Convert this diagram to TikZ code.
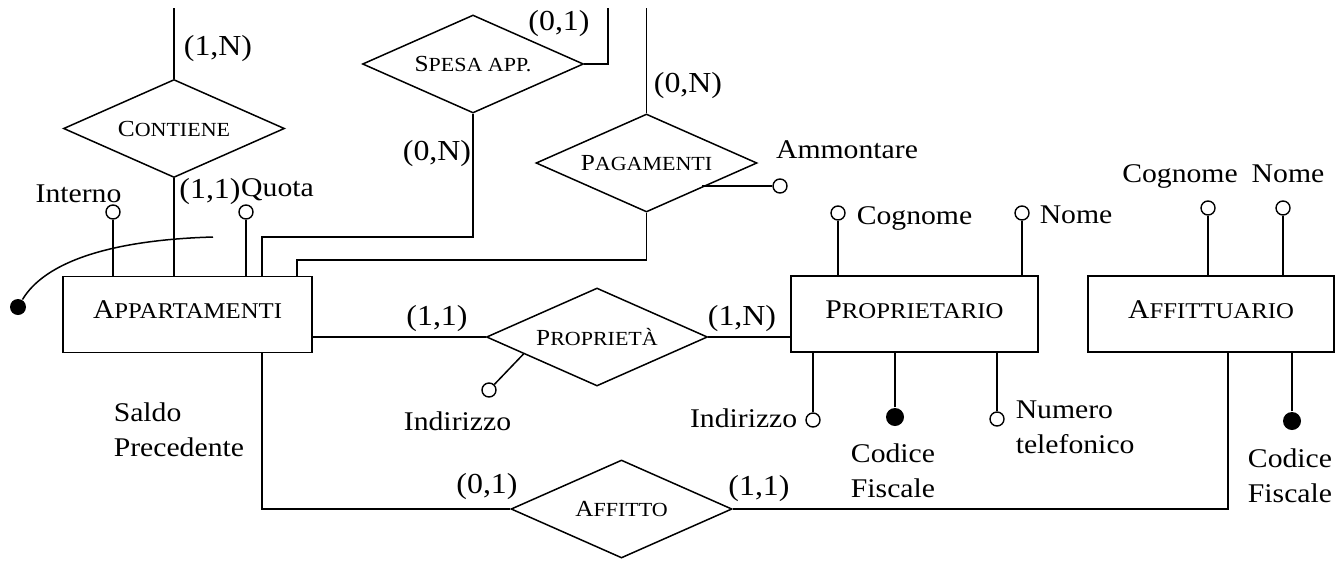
\documentclass[tikz,border=0pt]{standalone}
\usepackage{fontspec}
\setmainfont{Liberation Serif}[FakeStretch=1.1]
\usetikzlibrary{shapes.geometric,calc}

% font sizes for the different kinds of text
\newcommand\attrfont{\fontsize{27}{35}\selectfont}
\newcommand\cardfont{\fontsize{29}{34}\selectfont}
% small-caps style names: first letter large, the rest smaller capitals
\newcommand\entname[2]{{\fontsize{27}{30}\selectfont #1}{\fontsize{22.5}{30}\selectfont #2}}
\newcommand\relname[2]{{\fontsize{23}{26}\selectfont #1}{\fontsize{20}{26}\selectfont #2}}

\begin{document}
\begin{tikzpicture}[x=1pt,y=-1pt,line width=1.5pt,
  ent/.style={draw,rectangle,minimum height=76pt,inner sep=0pt,text depth=9pt},
  rel/.style={draw,diamond,aspect=2.25,inner sep=0pt,minimum width=221pt,minimum height=98pt},
  attr/.style={draw,circle,minimum size=14pt,inner sep=0pt,line width=1.4pt,fill=white},
  keyattr/.style={circle,fill=black,minimum size=18pt,inner sep=0pt},
  lbl/.style={inner sep=0pt,font=\attrfont},
  card/.style={inner sep=0pt,font=\cardfont}]

\useasboundingbox (0,0) rectangle (1337,560);
\fill[white] (0,0) rectangle (1337,560);

% entities
\node[ent,minimum width=249pt] (app)  at (187.5,314.5) {\entname{A}{PPARTAMENTI}};
\node[ent,minimum width=247pt] (prop) at (914.5,314)   {\entname{P}{ROPRIETARIO}};
\node[ent,minimum width=246pt] (affu) at (1211,314)    {\entname{A}{FFITTUARIO}};

% relationships
\node[rel] (contiene)  at (174,128.5) {\relname{C}{ONTIENE}};
\node[rel] (spesa)     at (473,64)    {\relname{S}{PESA APP.}};
\node[rel] (pagam)     at (646.5,163) {\relname{P}{AGAMENTI}};
\node[rel] (proprieta) at (597,337)   {\relname{P}{ROPRIETÀ}};
\node[rel] (affitto)   at (621.5,509) {\relname{A}{FFITTO}};

% bend points and free ends
\coordinate (topedge) at (0,8);
\coordinate (spesaTop) at (608,8);
\coordinate (bendS) at (262,237);
\coordinate (bendP) at (297,260);
\coordinate (bendA1) at (262,509);
\coordinate (bendA2) at (1228,509);
\coordinate (arcEnd) at (213,237);

% relationship connectors
\draw (contiene.north) -- (contiene.north |- topedge);
\draw (contiene.south) -- (contiene.south |- app.north);
\draw (spesa.east) -| (spesaTop);
\draw (pagam.north) -- (pagam.north |- topedge);
\draw (app.north -| bendS) -- (bendS) -| (spesa.south);
\draw (app.north -| bendP) -- (bendP) -| (pagam.south);
\draw (app.east |- proprieta.west) -- (proprieta.west);
\draw (proprieta.east) -- (prop.west |- proprieta.east);
\draw (app.south -| bendA1) |- (affitto.west);
\draw (affu.south -| bendA2) |- (affitto.east);

% attributes
\node[attr] (interno) at (113,212) {};
\node[attr] (quota)   at (246,212) {};
\node[attr] (amm)     at (780,186) {};
\node[attr] (cog1)    at (838,213) {};
\node[attr] (nome1)   at (1022,213) {};
\node[attr] (cog2)    at (1208,208) {};
\node[attr] (nome2)   at (1283,208) {};
\node[attr] (ind1)    at (489,390) {};
\node[attr] (ind2)    at (813,420) {};
\node[attr] (tel)     at (997,419) {};
\node[keyattr] (cf1)  at (895,417) {};
\node[keyattr] (cf2)  at (1292,421) {};
\node[keyattr,minimum size=16pt] (arcdot) at (18,307) {};

\draw (interno) -- (interno |- app.north);
\draw (quota) -- (quota |- app.north);
\draw (amm) -- (pagam.south east |- amm);
\draw (cog1) -- (cog1 |- prop.north);
\draw (nome1) -- (nome1 |- prop.north);
\draw (cog2) -- (cog2 |- affu.north);
\draw (nome2) -- (nome2 |- affu.north);
\draw (ind1) -- ($(proprieta.west)!0.34!(proprieta.south)$);
\draw (ind2) -- (ind2 |- prop.south);
\draw (tel) -- (tel |- prop.south);
\draw (cf1) -- (cf1 |- prop.south);
\draw (cf2) -- (cf2 |- affu.south);
\draw (arcdot) .. controls (45,262) and (110,240) .. (arcEnd);

% attribute labels
\node[lbl,anchor=base] (lInterno) at (78.5,202) {Interno};
\node[lbl,anchor=base] (lQuota)   at (277.5,196) {Quota};
\node[lbl,anchor=base] (lAmm)     at (847,158) {Ammontare};
\node[lbl,anchor=base west] (lCog1)  at (856,224) {Cognome};
\node[lbl,anchor=base west] (lNome1) at (1039,223) {Nome};
\node[lbl,anchor=base] (lCog2)  at (1180,182) {Cognome};
\node[lbl,anchor=base] (lNome2) at (1288,182) {Nome};
\node[lbl,anchor=base] (lInd1)  at (457.5,430) {Indirizzo};
\node[lbl,anchor=base east] (lInd2) at (798,427) {Indirizzo};
\node[lbl,anchor=north,align=center] (lCf1) at (893,443) {Codice\\Fiscale};
\node[lbl,anchor=north,align=center] (lCf2) at (1290,448) {Codice\\Fiscale};
\node[lbl,anchor=north west,align=left] (lTel) at (1015,400) {Numero\\telefonico};
\node[lbl,anchor=north west,align=left] (lSaldo) at (113,402) {Saldo\\Precedente};

% cardinalities
\node[card,anchor=base] (c1Na) at (218,55)  {(1,N)};
\node[card,anchor=base] (c11a) at (210,198) {(1,1)};
\node[card,anchor=base] (c01a) at (559,30)  {(0,1)};
\node[card,anchor=base] (c0Na) at (437,160) {(0,N)};
\node[card,anchor=base] (c0Nb) at (688,92)  {(0,N)};
\node[card,anchor=base] (c11b) at (437,325) {(1,1)};
\node[card,anchor=base] (c1Nb) at (742,325) {(1,N)};
\node[card,anchor=base] (c01b) at (487,493) {(0,1)};
\node[card,anchor=base] (c11c) at (759,495) {(1,1)};
\end{tikzpicture}
\end{document}
